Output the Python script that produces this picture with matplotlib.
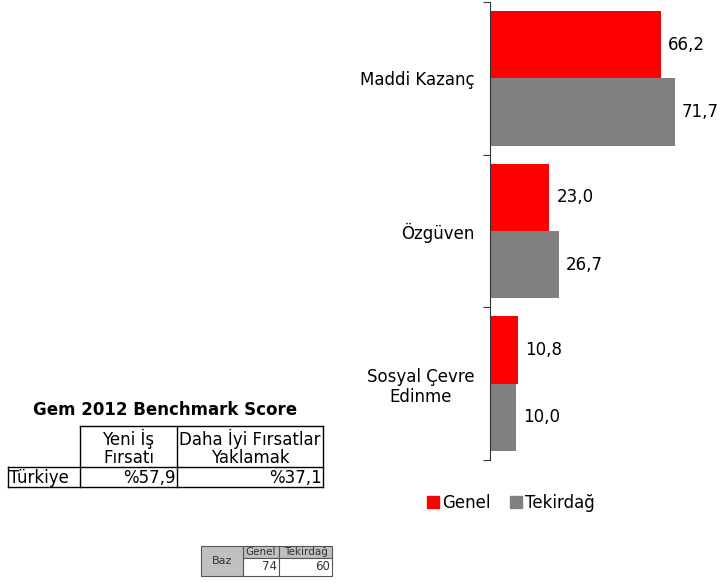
import matplotlib
matplotlib.use("Agg")
import matplotlib.pyplot as plt
from matplotlib.patches import Rectangle, Patch
import numpy as np

categories = ["Maddi Kazanç", "Özgüven", "Sosyal Çevre\nEdinme"]
genel = [66.2, 23.0, 10.8]
tekirdag = [71.7, 26.7, 10.0]
series_names = ["Genel", "Tekirdağ"]
colors = ["#ff0000", "#808080"]

bench_title = "Gem 2012 Benchmark Score"
bench_cols = ["Yeni İş\nFırsatı", "Daha İyi Fırsatlar\nYaklamak"]
bench_row = "Türkiye"
bench_vals = ["%57,9", "%37,1"]

baz_cols = ["Genel", "Tekirdağ"]
baz_vals = [74, 60]

W, H = 723, 582
plt.rcParams["font.family"] = ["DejaVu Sans"]
fig = plt.figure(figsize=(W / 100, H / 100), dpi=100)

# page overlay in pixel coords for the side tables
page = fig.add_axes([0, 0, 1, 1])
page.set_xlim(0, W)
page.set_ylim(H, 0)
page.axis("off")

# bar chart
ax = fig.add_axes([490 / W, 1 - 460 / H, 232 / W, 458 / H])
y = np.arange(len(categories))
h = 0.44
b1 = ax.barh(y - 0.22, genel, height=h, color=colors[0], label=series_names[0])
b2 = ax.barh(y + 0.22, tekirdag, height=h, color=colors[1], label=series_names[1])
for bars, vals in ((b1, genel), (b2, tekirdag)):
    for bar, v in zip(bars, vals):
        ax.text(bar.get_width() + 2.8, bar.get_y() + bar.get_height() / 2,
                f"{v:.1f}".replace(".", ","), va="center", ha="left", fontsize=12)
ax.set_xlim(0, 90)
ax.set_ylim(len(categories) - 0.5, -0.5)
ax.set_yticks(np.arange(len(categories) + 1) - 0.5)
ax.set_yticklabels([])
ax.set_yticks(y, minor=True)
ax.set_yticklabels(categories, minor=True, fontsize=12, ha="right", multialignment="center")
ax.tick_params(axis="y", which="major", length=5, direction="out", color="#333333")
ax.tick_params(axis="y", which="minor", length=0, pad=11)
ax.set_xticks([])
for s in ("top", "right", "bottom"):
    ax.spines[s].set_visible(False)
ax.spines["left"].set_color("#333333")

fig.legend(handles=[Patch(color=c, label=n) for c, n in zip(colors, series_names)],
           loc="center", bbox_to_anchor=(511 / W, 1 - 503 / H), ncol=2, frameon=False,
           fontsize=12, handlelength=0.7, handleheight=0.7, handletextpad=0.2,
           columnspacing=1.2)

# benchmark table
page.text(165, 410, bench_title, ha="center", va="center", fontsize=12, fontweight="bold")
xs = [8, 80, 177, 323]
ys = [426, 467, 487]
lw = 1.0
page.plot([xs[1], xs[3]], [ys[0], ys[0]], color="black", lw=lw)
page.plot([xs[0], xs[3]], [ys[1], ys[1]], color="black", lw=lw)
page.plot([xs[0], xs[3]], [ys[2], ys[2]], color="black", lw=lw)
page.plot([xs[0], xs[0]], [ys[1], ys[2]], color="black", lw=lw)
for xv in xs[1:]:
    page.plot([xv, xv], [ys[0], ys[2]], color="black", lw=lw)
for i, col in enumerate(bench_cols):
    page.text((xs[i + 1] + xs[i + 2]) / 2, (ys[0] + ys[1]) / 2 + 1, col,
              ha="center", va="center", fontsize=12, linespacing=1.0)
page.text(xs[0] + 1, (ys[1] + ys[2]) / 2 + 1, bench_row, ha="left", va="center", fontsize=12)
for i, v in enumerate(bench_vals):
    page.text(xs[i + 2] - 1, (ys[1] + ys[2]) / 2 + 1, v, ha="right", va="center", fontsize=12)

# baz table
bx = [201, 243, 279, 332]
by = [546, 558, 576]
gray = "#c0c0c0"
page.add_patch(Rectangle((bx[0], by[0]), bx[1] - bx[0], by[2] - by[0],
                         facecolor=gray, edgecolor="#555555", lw=0.8))
for i in range(2):
    page.add_patch(Rectangle((bx[i + 1], by[0]), bx[i + 2] - bx[i + 1], by[1] - by[0],
                             facecolor=gray, edgecolor="#555555", lw=0.8))
    page.add_patch(Rectangle((bx[i + 1], by[1]), bx[i + 2] - bx[i + 1], by[2] - by[1],
                             facecolor="white", edgecolor="#555555", lw=0.8))
    page.text((bx[i + 1] + bx[i + 2]) / 2, (by[0] + by[1]) / 2, baz_cols[i],
              ha="center", va="center", fontsize=7.5, color="#333333")
    page.text(bx[i + 2] - 2, (by[1] + by[2]) / 2, str(baz_vals[i]),
              ha="right", va="center", fontsize=8.5, color="#333333")
page.text((bx[0] + bx[1]) / 2, (by[0] + by[2]) / 2, "Baz", ha="center", va="center",
          fontsize=8, color="#333333")

fig.savefig("out.png", dpi=100)
